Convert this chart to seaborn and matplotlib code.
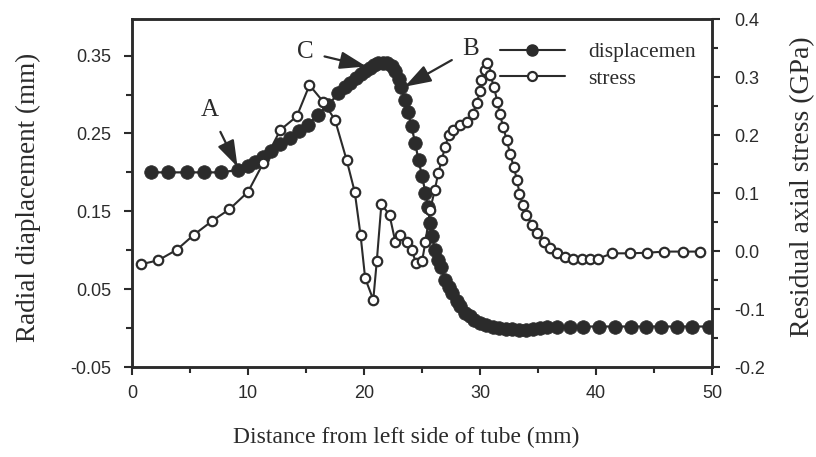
import matplotlib
matplotlib.use("Agg")
import matplotlib.pyplot as plt
from matplotlib.lines import Line2D
import seaborn as sns
import pandas as pd

# ---- data ----
disp_x = [1.6, 3.1, 4.7, 6.2, 7.7, 9.1, 10.0, 10.6, 11.3, 12.0, 12.8, 13.6, 14.4, 15.2,
          16.0, 16.9, 17.8, 18.4, 18.8, 19.3, 19.7, 20.1, 20.5, 20.9, 21.2, 21.6, 22.0,
          22.4, 22.7, 23.0, 23.2, 23.5, 23.8, 24.1, 24.4, 24.7, 25.0, 25.3, 25.5, 25.7,
          25.9, 26.1, 26.4, 26.6, 27.0, 27.3, 27.6, 28.0, 28.3, 28.7, 29.1, 29.5, 30.0,
          30.5, 31.1, 31.6, 32.2, 32.8, 33.4, 34.0, 34.6, 35.2, 35.8, 36.6, 37.8, 38.9,
          40.3, 41.6, 43.0, 44.3, 45.6, 47.0, 48.3, 49.7]
disp_y = [0.200, 0.200, 0.200, 0.200, 0.200, 0.203, 0.208, 0.213, 0.220, 0.227, 0.236,
          0.244, 0.253, 0.261, 0.274, 0.286, 0.302, 0.310, 0.315, 0.321, 0.326, 0.330,
          0.334, 0.338, 0.340, 0.341, 0.341, 0.337, 0.330, 0.320, 0.310, 0.293, 0.277,
          0.259, 0.238, 0.216, 0.195, 0.174, 0.156, 0.135, 0.118, 0.100, 0.088, 0.079,
          0.062, 0.053, 0.045, 0.035, 0.028, 0.020, 0.015, 0.010, 0.006, 0.004, 0.002,
          0.000, -0.001, -0.001, -0.002, -0.002, -0.001, 0.000, 0.001, 0.002, 0.002,
          0.002, 0.002, 0.002, 0.002, 0.002, 0.002, 0.002, 0.002, 0.002]

stress_x = [0.75, 2.27, 3.85, 5.34, 6.92, 8.4, 10.0, 11.3, 12.8, 14.2, 15.3, 16.5, 17.5,
            18.5, 19.2, 19.7, 20.1, 20.8, 21.1, 21.5, 22.2, 22.7, 23.1, 23.7, 24.1, 24.5,
            25.0, 25.3, 25.7, 26.1, 26.4, 26.7, 27.0, 27.3, 27.7, 28.3, 28.9, 29.4, 29.7,
            30.0, 30.1, 30.4, 30.6, 30.9, 31.2, 31.5, 31.7, 32.0, 32.3, 32.6, 32.9, 33.2,
            33.4, 33.7, 34.0, 34.5, 34.9, 35.5, 36.0, 36.6, 37.3, 38.0, 38.8, 39.5, 40.2,
            41.4, 42.9, 44.4, 45.9, 47.5, 49.0]
stress_y = [-0.023, -0.016, 0.002, 0.028, 0.052, 0.072, 0.102, 0.151, 0.209, 0.232, 0.286,
            0.257, 0.226, 0.157, 0.102, 0.028, -0.047, -0.084, -0.018, 0.081, 0.062, 0.016,
            0.028, 0.016, 0.002, -0.021, -0.018, 0.016, 0.071, 0.105, 0.134, 0.157, 0.180,
            0.200, 0.209, 0.217, 0.223, 0.237, 0.255, 0.275, 0.295, 0.312, 0.324, 0.303,
            0.283, 0.257, 0.237, 0.214, 0.191, 0.168, 0.145, 0.122, 0.099, 0.079, 0.062,
            0.045, 0.031, 0.016, 0.005, -0.004, -0.010, -0.013, -0.014, -0.014, -0.013,
            -0.004, -0.004, -0.003, -0.001, -0.001, -0.001]

x_ticks = [0, 10, 20, 30, 40, 50]
left_ticks = [-0.05, 0.05, 0.15, 0.25, 0.35]
left_labels = ["-0.05", "0.05", "0.15", "0.25", "0.35"]
right_ticks = [-0.2, -0.1, 0.0, 0.1, 0.2, 0.3, 0.4]
right_labels = ["-0.2", "-0.1", "0.0", "0.1", "0.2", "0.3", "0.4"]
series_names = ["displacemen", "stress"]
annotations = [("A", (6.7, 0.280), (9.1, 0.207)),
               ("C", (14.9, 0.355), (20.2, 0.336)),
               ("B", (29.2, 0.358), (23.5, 0.310))]

# ---- style ----
sns.set_style("ticks")
plt.rcParams['font.family'] = ['Liberation Sans', 'DejaVu Sans']
serif = ['Liberation Serif', 'DejaVu Serif']
ink = '#2b2b2b'

fig = plt.figure(figsize=(8.16, 4.57), dpi=100)
ax = fig.add_axes([132/816, 1-367/457, (712-132)/816, (367-19)/457])
ax2 = ax.twinx()

df_d = pd.DataFrame({"x": disp_x, "y": disp_y})
df_s = pd.DataFrame({"x": stress_x, "y": stress_y})

sns.lineplot(data=df_d, x="x", y="y", ax=ax, estimator=None, color=ink, lw=1.6,
             marker='o', markersize=9.8, mfc=ink, mec=ink, mew=0.5)
sns.lineplot(data=df_s, x="x", y="y", ax=ax2, estimator=None, color=ink, lw=1.5,
             marker='o', markersize=6.8, mfc='white', mec=ink, mew=1.6)

ax.set_xlim(0, 50)
ax.set_ylim(-0.05, 0.397)
ax2.set_ylim(-0.2, 0.4)

ax.set_xticks(x_ticks)
ax.set_xticklabels([str(t) for t in x_ticks])
ax.set_xticks([5, 15, 25, 35, 45], minor=True)
ax.set_yticks(left_ticks)
ax.set_yticklabels(left_labels)
ax.set_yticks([0.0, 0.10, 0.20, 0.30], minor=True)
ax2.set_yticks(right_ticks)
ax2.set_yticklabels(right_labels)
ax2.set_yticks([-0.15, -0.05, 0.05, 0.15, 0.25, 0.35], minor=True)

for a in (ax, ax2):
    a.tick_params(which='major', direction='out', length=6, width=1.5, labelsize=13,
                  colors=ink)
    a.tick_params(which='minor', direction='out', length=4, width=1.5, colors=ink)
    for s in a.spines.values():
        s.set_linewidth(1.8)
        s.set_color(ink)
        s.set_visible(True)
ax.tick_params(axis='x', which='major', pad=7)
ax.tick_params(axis='y', which='major', pad=9)
ax2.tick_params(axis='y', which='major', pad=10)

ax.set_xlabel("Distance from left side of tube (mm)", family=serif, fontsize=17,
              color=ink)
ax.set_ylabel("Radial diaplacement (mm)", family=serif, fontsize=19.5, color=ink)
ax2.set_ylabel("Residual axial stress (GPa)", family=serif, fontsize=20, color=ink)

ax.xaxis.set_label_coords((406-132)/580, (367-437)/348)
ax.yaxis.set_label_coords((28-132)/580, (367-197)/348)
ax2.yaxis.set_label_coords((803-132)/580, (367-187)/348)
for lab in (ax.xaxis.label, ax.yaxis.label, ax2.yaxis.label):
    lab.set_va('center')
    lab.set_ha('center')

for label, txt_pos, tip in annotations:
    ax.annotate(label, xy=tip, xytext=txt_pos, family=serif, fontsize=18, color=ink,
                ha='center', va='center',
                arrowprops=dict(arrowstyle='-|>,head_length=0.9,head_width=0.3',
                                color=ink, lw=1.6, shrinkA=6, shrinkB=0))

handles = [Line2D([], [], color=ink, lw=1.5, marker='o', markersize=8, mfc=ink, mec=ink),
           Line2D([], [], color=ink, lw=1.5, marker='o', markersize=6.5, mfc='white',
                  mec=ink, mew=1.6)]
leg = fig.legend(handles, series_names, loc='upper left',
                 bbox_to_anchor=(500/816, 1-42/457), bbox_transform=fig.transFigure,
                 frameon=False, borderpad=0, borderaxespad=0, handlelength=3.0,
                 handletextpad=1.1, labelspacing=0.3,
                 prop={'family': serif, 'size': 15.5})
for t in leg.get_texts():
    t.set_color(ink)

fig.savefig("out.png", dpi=100)
